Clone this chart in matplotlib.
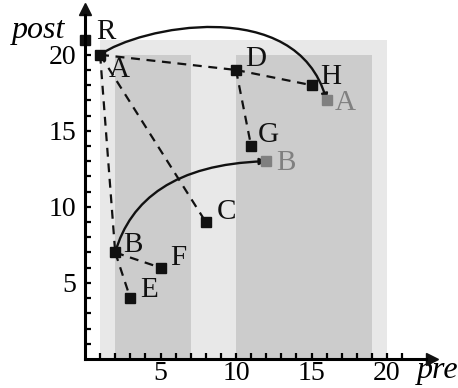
import matplotlib.pyplot as plt
from matplotlib.path import Path
from matplotlib.patches import FancyArrowPatch, Rectangle

plt.rcParams["font.family"] = ["Liberation Serif", "DejaVu Serif"]

# points (pre, post)
black_names = ["R", "A", "D", "H", "G", "C", "B", "F", "E"]
black_x = [0, 1, 10, 15, 11, 8, 2, 5, 3]
black_y = [21, 20, 19, 18, 14, 9, 7, 6, 4]
gray_names = ["A", "B"]
gray_x = [16, 12]
gray_y = [17, 13]

# dashed links between black points
links = [("A", "D"), ("D", "H"), ("A", "C"), ("A", "B"), ("B", "E"), ("B", "F"), ("D", "G")]

# curve control points (cubic bezier)
upper_curve = [(1, 20), (3.5, 21.8), (14, 24), (16, 17)]
lower_curve = [(2, 7), (3, 10.5), (6, 12.8), (12, 13)]

# shaded regions: (x0, x1, y_top)
light_region = (1, 20, 21)
dark_regions = [(2, 7, 20), (10, 19, 20)]

label_pos = {
    "R": (1.35, 21.5), "A": (2.25, 19.0), "D": (11.3, 19.7), "H": (16.25, 18.55),
    "G": (12.15, 14.7), "C": (9.35, 9.65), "B": (3.15, 7.5), "F": (6.2, 6.65), "E": (4.25, 4.55),
}
gray_label_pos = {"A": (17.25, 16.85), "B": (13.3, 12.9)}

fig = plt.figure(figsize=(4.58, 3.88), dpi=100)
ax = fig.add_axes([0, 0, 1, 1])
ax.set_xlim(-5.63, 24.7)
ax.set_ylim(-1.91, 23.6)

x0, x1, top = light_region
ax.add_patch(Rectangle((x0, 0), x1 - x0, top, color="#e8e8e8", lw=0, zorder=0))
for x0, x1, top in dark_regions:
    ax.add_patch(Rectangle((x0, 0), x1 - x0, top, color="#cccccc", lw=0, zorder=1))

pts = dict(zip(black_names, zip(black_x, black_y)))
for a, b in links:
    ax.plot([pts[a][0], pts[b][0]], [pts[a][1], pts[b][1]], color="#111111",
            lw=1.6, ls=(0, (4, 3)), zorder=3)

codes = [Path.MOVETO, Path.CURVE4, Path.CURVE4, Path.CURVE4]
for curve in [upper_curve, lower_curve]:
    arr = FancyArrowPatch(path=Path(curve, codes), arrowstyle="-|>", mutation_scale=9,
                          color="#111111", lw=1.7, zorder=3)
    ax.add_patch(arr)

ax.plot(black_x, black_y, ls="none", marker="s", ms=7, color="#111111", zorder=4)
ax.plot(gray_x, gray_y, ls="none", marker="s", ms=7, color="#808080", zorder=4)

for name, (lx, ly) in label_pos.items():
    ax.text(lx, ly, name, fontsize=21, ha="center", va="center", color="#111111", zorder=5)
for name, (lx, ly) in gray_label_pos.items():
    ax.text(lx, ly, name, fontsize=21, ha="center", va="center", color="#808080", zorder=5)

# axes drawn through the origin with arrows
ax.spines["left"].set_position(("data", 0))
ax.spines["bottom"].set_position(("data", 0))
ax.spines["left"].set_bounds(0, 22.6)
ax.spines["bottom"].set_bounds(0, 22.6)
for s in ["left", "bottom"]:
    ax.spines[s].set_linewidth(2.2)
    ax.spines[s].set_zorder(6)
for s in ["top", "right"]:
    ax.spines[s].set_visible(False)
ax.plot([0], [23.0], marker="^", ms=8, color="#111111", clip_on=False, zorder=6)
ax.plot([23.0], [0], marker=">", ms=8, color="#111111", clip_on=False, zorder=6)

ax.set_xticks(range(1, 22))
ax.set_yticks(range(1, 22))
ax.set_xticklabels(["" if i % 5 else str(i) for i in range(1, 22)])
ax.set_yticklabels(["" if i % 5 else str(i) for i in range(1, 22)])
ax.tick_params(direction="in", length=4.5, width=1.6, labelsize=20)
ax.tick_params(axis="x", pad=1.5)
ax.tick_params(axis="y", pad=6.5)
ax.set_facecolor("white")

ax.text(-3.1, 21.6, "post", fontsize=23, style="italic", ha="center", va="center")
ax.text(22.0, -0.75, "pre", fontsize=23, style="italic", ha="left", va="center")

fig.savefig("out.png", dpi=100)
